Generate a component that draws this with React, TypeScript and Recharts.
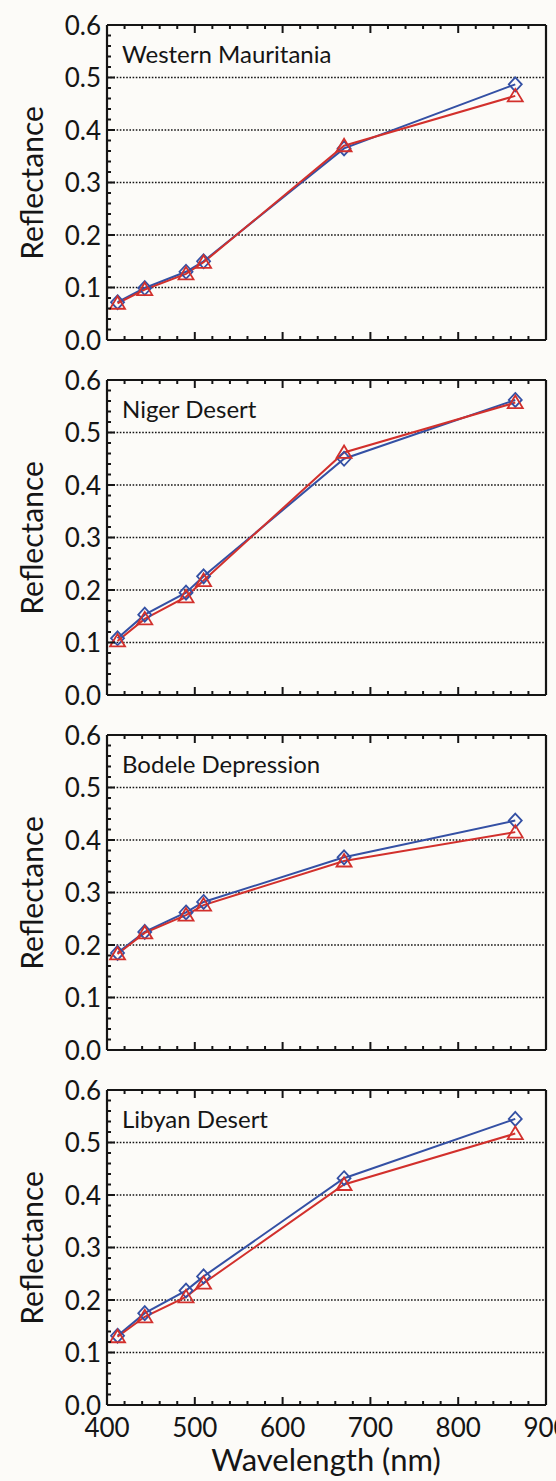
import React from 'react'
import { LineChart, Line, XAxis, YAxis, ReferenceLine } from 'recharts'

// wavelengths of the six bands (nm)
const WAVELENGTHS = [412, 443, 490, 510, 670, 865]

// reflectance per site: blue diamonds / red triangles
const WM_BLUE = [0.072, 0.099, 0.13, 0.15, 0.365, 0.487]
const WM_RED = [0.07, 0.096, 0.126, 0.148, 0.37, 0.465]
const ND_BLUE = [0.108, 0.153, 0.195, 0.226, 0.45, 0.562]
const ND_RED = [0.103, 0.145, 0.187, 0.218, 0.462, 0.557]
const BD_BLUE = [0.185, 0.225, 0.262, 0.282, 0.367, 0.437]
const BD_RED = [0.183, 0.223, 0.257, 0.276, 0.36, 0.415]
const LD_BLUE = [0.132, 0.175, 0.218, 0.245, 0.432, 0.545]
const LD_RED = [0.13, 0.168, 0.206, 0.232, 0.42, 0.517]

const SITES = ['Western Mauritania', 'Niger Desert', 'Bodele Depression', 'Libyan Desert']
const BLUE_SETS = [WM_BLUE, ND_BLUE, BD_BLUE, LD_BLUE]
const RED_SETS = [WM_RED, ND_RED, BD_RED, LD_RED]

// axis ticks: majors get labels, minors are short marks
const X_MAJOR = [400, 500, 600, 700, 800, 900]
const X_TICKS = Array.from({ length: 26 }, (_, i) => 400 + i * 20)
const Y_MAJOR_LABELS = ['0.0', '0.1', '0.2', '0.3', '0.4', '0.5', '0.6']
const Y_TICKS = Array.from({ length: 31 }, (_, i) => Math.round(i * 2) / 100)
const GRID_Y = [0.1, 0.2, 0.3, 0.4, 0.5]

const BLUE = '#3450a4'
const RED = '#d2302c'
const INK = '#151515'
const FONT = 'Lato, "Open Sans", sans-serif'

const W = 556
const PANEL_H = 355
const LAST_H = 416
// plot box of each panel: x 107..546, y 25..340 (axes take 1px each)
const M = { top: 24, right: 9, bottom: 14, left: 106 }

const isMajorY = (v: number) => Math.abs(v * 10 - Math.round(v * 10)) < 1e-6

const XTick = (props: any) => {
  const { x, y, payload, side, showLabel } = props
  const v = payload.value as number
  const major = X_MAJOR.includes(v)
  const len = major ? 8 : 4
  const dir = side === 'top' ? 1 : -1
  return (
    <g>
      <line x1={x} x2={x} y1={y} y2={y + dir * len} stroke={INK} strokeWidth={2} />
      {showLabel && major && (
        <text x={x} y={y + 32} textAnchor="middle" fontSize={26} fill={INK} fontFamily={FONT}>
          {v}
        </text>
      )}
    </g>
  )
}

const YTick = (props: any) => {
  const { x, y, payload, side } = props
  const v = payload.value as number
  const major = isMajorY(v)
  const len = major ? 8 : 4
  const dir = side === 'right' ? -1 : 1
  return (
    <g>
      <line x1={x} x2={x + dir * len} y1={y} y2={y} stroke={INK} strokeWidth={2} />
      {side === 'left' && major && (
        <text x={x - 6} y={y + 9.5} textAnchor="end" fontSize={26} fill={INK} fontFamily={FONT}>
          {Y_MAJOR_LABELS[Math.round(v * 10)]}
        </text>
      )}
    </g>
  )
}

const Diamond = ({ cx, cy }: any) => (
  <path
    d={`M${cx},${cy - 7} L${cx + 6.5},${cy} L${cx},${cy + 7} L${cx - 6.5},${cy} Z`}
    fill="none"
    stroke={BLUE}
    strokeWidth={1.8}
  />
)

const Triangle = ({ cx, cy }: any) => (
  <path
    d={`M${cx},${cy - 7} L${cx + 7.5},${cy + 5.5} L${cx - 7.5},${cy + 5.5} Z`}
    fill="none"
    stroke={RED}
    strokeWidth={1.8}
  />
)

const Panel = ({ index }: { index: number }) => {
  const last = index === SITES.length - 1
  const h = last ? LAST_H : PANEL_H
  const rows = WAVELENGTHS.map((wl, i) => ({
    wl,
    blue: BLUE_SETS[index][i],
    red: RED_SETS[index][i],
  }))
  const axisLine = { stroke: INK, strokeWidth: 2.2 }
  const plotTop = M.top + 1
  return (
    <div style={{ position: 'absolute', left: 0, top: index * PANEL_H, width: W, height: h }}>
      <LineChart
        width={W}
        height={h}
        data={rows}
        margin={{ ...M, bottom: h - PANEL_H + M.bottom }}
      >
        <XAxis
          xAxisId="bottom"
          dataKey="wl"
          type="number"
          domain={[400, 900]}
          ticks={X_TICKS}
          interval={0}
          height={1}
          tickSize={0}
          tickMargin={0}
          tickLine={false}
          axisLine={axisLine}
          tick={(p: any) => <XTick {...p} side="bottom" showLabel={last} />}
        />
        <XAxis
          xAxisId="top"
          orientation="top"
          dataKey="wl"
          type="number"
          domain={[400, 900]}
          ticks={X_TICKS}
          interval={0}
          height={1}
          tickSize={0}
          tickMargin={0}
          tickLine={false}
          axisLine={axisLine}
          tick={(p: any) => <XTick {...p} side="top" showLabel={false} />}
        />
        <YAxis
          yAxisId="left"
          type="number"
          domain={[0, 0.6]}
          ticks={Y_TICKS}
          interval={0}
          width={1}
          tickSize={0}
          tickMargin={0}
          tickLine={false}
          axisLine={axisLine}
          tick={(p: any) => <YTick {...p} side="left" />}
        />
        <YAxis
          yAxisId="right"
          orientation="right"
          type="number"
          domain={[0, 0.6]}
          ticks={Y_TICKS}
          interval={0}
          width={1}
          tickSize={0}
          tickMargin={0}
          tickLine={false}
          axisLine={axisLine}
          tick={(p: any) => <YTick {...p} side="right" />}
        />
        {GRID_Y.map((v) => (
          <ReferenceLine
            key={v}
            y={v}
            xAxisId="bottom"
            yAxisId="left"
            stroke={INK}
            strokeWidth={1.6}
            strokeDasharray="1.6 1.6"
          />
        ))}
        <Line
          xAxisId="bottom"
          yAxisId="left"
          type="linear"
          dataKey="blue"
          stroke={BLUE}
          strokeWidth={2}
          dot={(p: any) => <Diamond key={`d-${p.index}`} {...p} />}
          activeDot={false}
          isAnimationActive={false}
        />
        <Line
          xAxisId="bottom"
          yAxisId="left"
          type="linear"
          dataKey="red"
          stroke={RED}
          strokeWidth={2}
          dot={(p: any) => <Triangle key={`t-${p.index}`} {...p} />}
          activeDot={false}
          isAnimationActive={false}
        />
      </LineChart>
      <svg
        width={W}
        height={h}
        style={{ position: 'absolute', left: 0, top: 0, pointerEvents: 'none' }}
      >
        <text x={122} y={plotTop + 38} fontSize={24} fill={INK} fontFamily={FONT}>
          {SITES[index]}
        </text>
        <text
          x={0}
          y={0}
          transform={`translate(43, ${plotTop + 158}) rotate(-90)`}
          textAnchor="middle"
          fontSize={30}
          fill={INK}
          fontFamily={FONT}
        >
          Reflectance
        </text>
        {last && (
          <text x={326} y={h - 10} textAnchor="middle" fontSize={31} fill={INK} fontFamily={FONT}>
            Wavelength (nm)
          </text>
        )}
      </svg>
    </div>
  )
}

export default function App() {
  return (
    <div
      style={{
        position: 'absolute',
        left: 0,
        top: 0,
        width: W,
        height: 1481,
        overflow: 'hidden',
        background: '#fcfbf8',
      }}
    >
      {SITES.map((_, i) => (
        <Panel key={i} index={i} />
      ))}
    </div>
  )
}
